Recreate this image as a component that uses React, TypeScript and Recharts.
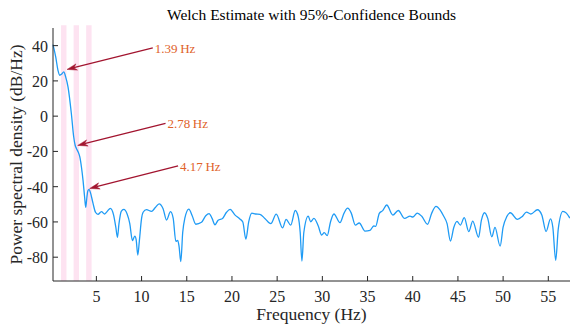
import React from 'react';
import { LineChart, Line, XAxis, YAxis, ReferenceArea, ReferenceLine } from 'recharts';

// Welch PSD estimate (frequency in Hz, level in dB/Hz)
const freqHz = [
  0.2, 0.5, 0.75, 0.94, 1.15, 1.39, 1.6, 1.86, 2.23, 2.49, 2.65, 2.79, 3.0, 3.16, 3.35, 3.52, 3.7, 3.82,
  3.95, 4.05, 4.19, 4.35, 4.63, 4.9, 5.18, 5.56, 5.92, 6.2, 6.55, 6.9, 7.15, 7.33, 7.5, 7.75, 8.03, 8.4,
  8.69, 8.99, 9.25, 9.4, 9.58, 9.75, 10.0, 10.17, 10.54, 11.1, 11.5, 11.94, 12.38, 12.76, 13.2, 13.5,
  13.79, 14.0, 14.15, 14.34, 14.55, 14.78, 15.23, 15.6, 16.0, 16.63, 17.1, 17.47, 17.8, 18.12, 18.47,
  18.96, 19.4, 19.8, 20.32, 20.87, 21.2, 21.54, 21.85, 22.2, 22.6, 23.09, 23.64, 24.29, 24.9, 25.6,
  25.99, 26.5, 27.0, 27.33, 27.55, 27.74, 27.95, 28.44, 28.7, 29.07, 29.55, 29.92, 30.21, 30.54, 30.9,
  31.28, 31.95, 32.4, 32.8, 33.2, 33.65, 34.08, 34.72, 35.27, 35.68, 35.9, 36.3, 36.68, 37.12, 37.8,
  38.4, 39.1, 39.7, 40.0, 40.5, 41.0, 41.64, 42.1, 42.58, 43.0, 43.4, 43.8, 44.17, 44.55, 44.9, 45.27,
  45.7, 46.2, 46.64, 47.28, 47.6, 47.94, 48.3, 48.75, 49.1, 49.67, 50.0, 50.4, 50.8, 51.58, 52.1,
  52.58, 53.07, 53.8, 54.28, 54.76, 55.24, 55.5, 55.82, 56.1, 56.61, 57.0, 57.38,
];
const psdDb = [
  40.6, 33.6, 26, 23.2, 23.8, 25.1, 22.3, 16.6, 1.5, -11.7, -16.5, -18.3, -20.5, -23, -29, -36.3, -46, -51.7,
  -46, -42.5, -41.5, -43.5, -49.5, -54.5, -55.7, -54.2, -55.5, -54, -52.3, -56, -63, -68.7, -61, -54, -52.9, -55.5,
  -60.8, -70.6, -68, -70, -78.8, -71, -58, -54.5, -53, -54, -52, -49.7, -52.5, -58.9, -54.2, -58,
  -71, -70.5, -74, -82.5, -66, -58, -52.7, -56.5, -61.3, -60.2, -56.5, -55.3, -58, -61.6, -59,
  -58, -54.5, -52.9, -56, -58.3, -60, -69.8, -60, -55, -55.5, -55.7, -58, -61, -55.6, -63.4,
  -58.5, -61.8, -53.5, -57, -66, -82.2, -66, -56.7, -59.9, -58, -62.3, -67.4, -66.1, -67.8, -60,
  -55.5, -60.4, -55, -52.2, -55, -61.8, -60.6, -65.2, -64.8, -62.3, -62.5, -55.1, -53.6, -50.4, -56.1,
  -53.5, -58, -56.7, -57.2, -55, -56.8, -61.3, -55, -51.2, -53, -56.5, -61, -70.8, -63, -59.7, -61.8,
  -57.6, -65.5, -59.5, -68.7, -59, -54.8, -58, -68.4, -63.1, -73.7, -63, -57, -54.8, -58.5, -57,
  -54.4, -55.5, -53.1, -56, -65.4, -58.3, -63, -81.8, -64, -54, -55, -57.8,
];

const xTicks = [5, 10, 15, 20, 25, 30, 35, 40, 45, 50, 55];
const yTicks = [-80, -60, -40, -20, 0, 20, 40];

// Harmonic peaks and their callouts
const peakHz = [1.39, 2.78, 4.17];
const peakLabels = ['1.39\u2009Hz', '2.78\u2009Hz', '4.17\u2009Hz'];
const arrowTailHz = [11.24, 12.65, 14.04];
const arrowTailDb = [38.7, -4.1, -28.2];
const arrowHeadHz = [1.75, 2.93, 4.26];
const arrowHeadDb = [26.5, -16.6, -41];
const bandHalfWidthHz = 0.3;

const data = freqHz.map((f, i) => ({ f, psd: psdDb[i] }));

const SERIF = '"Liberation Serif", "Times New Roman", serif';
const INK = '#262626';
const ARROW = '#a2142f';
const CALLOUT = '#e0622a';

const XTick = (props: any) => {
  const { x, y, payload } = props;
  return (
    <g>
      <line x1={x} x2={x} y1={y} y2={y - 5} stroke={INK} strokeWidth={1} />
      <text x={x} y={y + 21} textAnchor="middle" fontSize={16} fontFamily={SERIF} fill={INK}>
        {payload.value}
      </text>
    </g>
  );
};

const YTick = (props: any) => {
  const { x, y, payload } = props;
  return (
    <g>
      <line x1={x} x2={x + 5} y1={y} y2={y} stroke={INK} strokeWidth={1} />
      <text x={x - 5} y={y + 6} textAnchor="end" fontSize={16} fontFamily={SERIF} fill={INK}>
        {payload.value}
      </text>
    </g>
  );
};

const arrowShape = (label: string) => (p: any) => {
  const { x1, y1, x2, y2 } = p;
  const ang = Math.atan2(y2 - y1, x2 - x1);
  const len = 10;
  const half = 3.2;
  const ux = Math.cos(ang);
  const uy = Math.sin(ang);
  const bx = x2 - ux * len;
  const by = y2 - uy * len;
  const nx = x2 - ux * (len - 3);
  const ny = y2 - uy * (len - 3);
  const pts = [
    [x2, y2],
    [bx - uy * half, by + ux * half],
    [nx, ny],
    [bx + uy * half, by - ux * half],
  ]
    .map((q) => q.join(','))
    .join(' ');
  return (
    <g>
      <line x1={x1} y1={y1} x2={nx} y2={ny} stroke={ARROW} strokeWidth={1.3} />
      <polygon points={pts} fill={ARROW} stroke={ARROW} strokeWidth={0.5} />
      <text x={x1 + 2} y={y1 + 5} fontSize={13} fontFamily={SERIF} fill={CALLOUT}>
        {label}
      </text>
    </g>
  );
};

export default function App() {
  return (
    <div style={{ position: 'relative', width: 570, height: 327, background: '#fff' }}>
      <style>{'body{margin:0}'}</style>
      <LineChart width={570} height={327} data={data} margin={{ top: 28, right: 0, bottom: 0, left: 0 }}>
        <XAxis
          dataKey="f"
          type="number"
          domain={[0.2, 57.4]}
          ticks={xTicks}
          tickSize={0}
          tickMargin={0}
          tickLine={false}
          tick={XTick}
          height={46}
          axisLine={{ stroke: INK, strokeWidth: 1 }}
          label={{
            content: (lp: any) => {
              const vb = lp.viewBox;
              return (
                <text x={vb.x + vb.width / 2} y={vb.y + 39} textAnchor="middle" fontSize={17.5} fontFamily={SERIF} fill={INK}>
                  Frequency (Hz)
                </text>
              );
            },
          }}
        />
        <YAxis
          type="number"
          domain={[-93.5, 50]}
          ticks={yTicks}
          width={53}
          tickSize={0}
          tickMargin={0}
          tickLine={false}
          tick={YTick}
          axisLine={{ stroke: INK, strokeWidth: 1 }}
          label={{
            content: (lp: any) => {
              const vb = lp.viewBox;
              const cx = vb.x + 16;
              const cy = vb.y + vb.height / 2;
              return (
                <text
                  x={cx}
                  y={cy}
                  transform={`rotate(-90 ${cx} ${cy})`}
                  textAnchor="middle"
                  dominantBaseline="central"
                  fontSize={17.5}
                  fontFamily={SERIF}
                  fill={INK}
                >
                  Power spectral density (dB/Hz)
                </text>
              );
            },
          }}
        />
        {peakHz.map((f) => (
          <ReferenceArea
            key={`band-${f}`}
            x1={f - bandHalfWidthHz}
            x2={f + bandHalfWidthHz}
            y1={-93.5}
            y2={51.5}
            ifOverflow="visible"
            fill="#fde3f1"
            fillOpacity={1}
            stroke="none"
          />
        ))}
        <Line
          type="monotone"
          dataKey="psd"
          stroke="#1f9bf5"
          strokeWidth={1.3}
          dot={false}
          isAnimationActive={false}
        />
        {peakHz.map((f, i) => (
          <ReferenceLine
            key={`arrow-${f}`}
            segment={[
              { x: arrowTailHz[i], y: arrowTailDb[i] },
              { x: arrowHeadHz[i], y: arrowHeadDb[i] },
            ]}
            ifOverflow="visible"
            stroke={ARROW}
            shape={arrowShape(peakLabels[i])}
          />
        ))}
      </LineChart>
      <svg width={570} height={30} style={{ position: 'absolute', left: 0, top: 0, pointerEvents: 'none' }}>
        <text x={311.5} y={20} textAnchor="middle" fontSize={15.5} fontFamily={SERIF} fill="#000">
          Welch Estimate with 95%-Confidence Bounds
        </text>
      </svg>
    </div>
  );
}
